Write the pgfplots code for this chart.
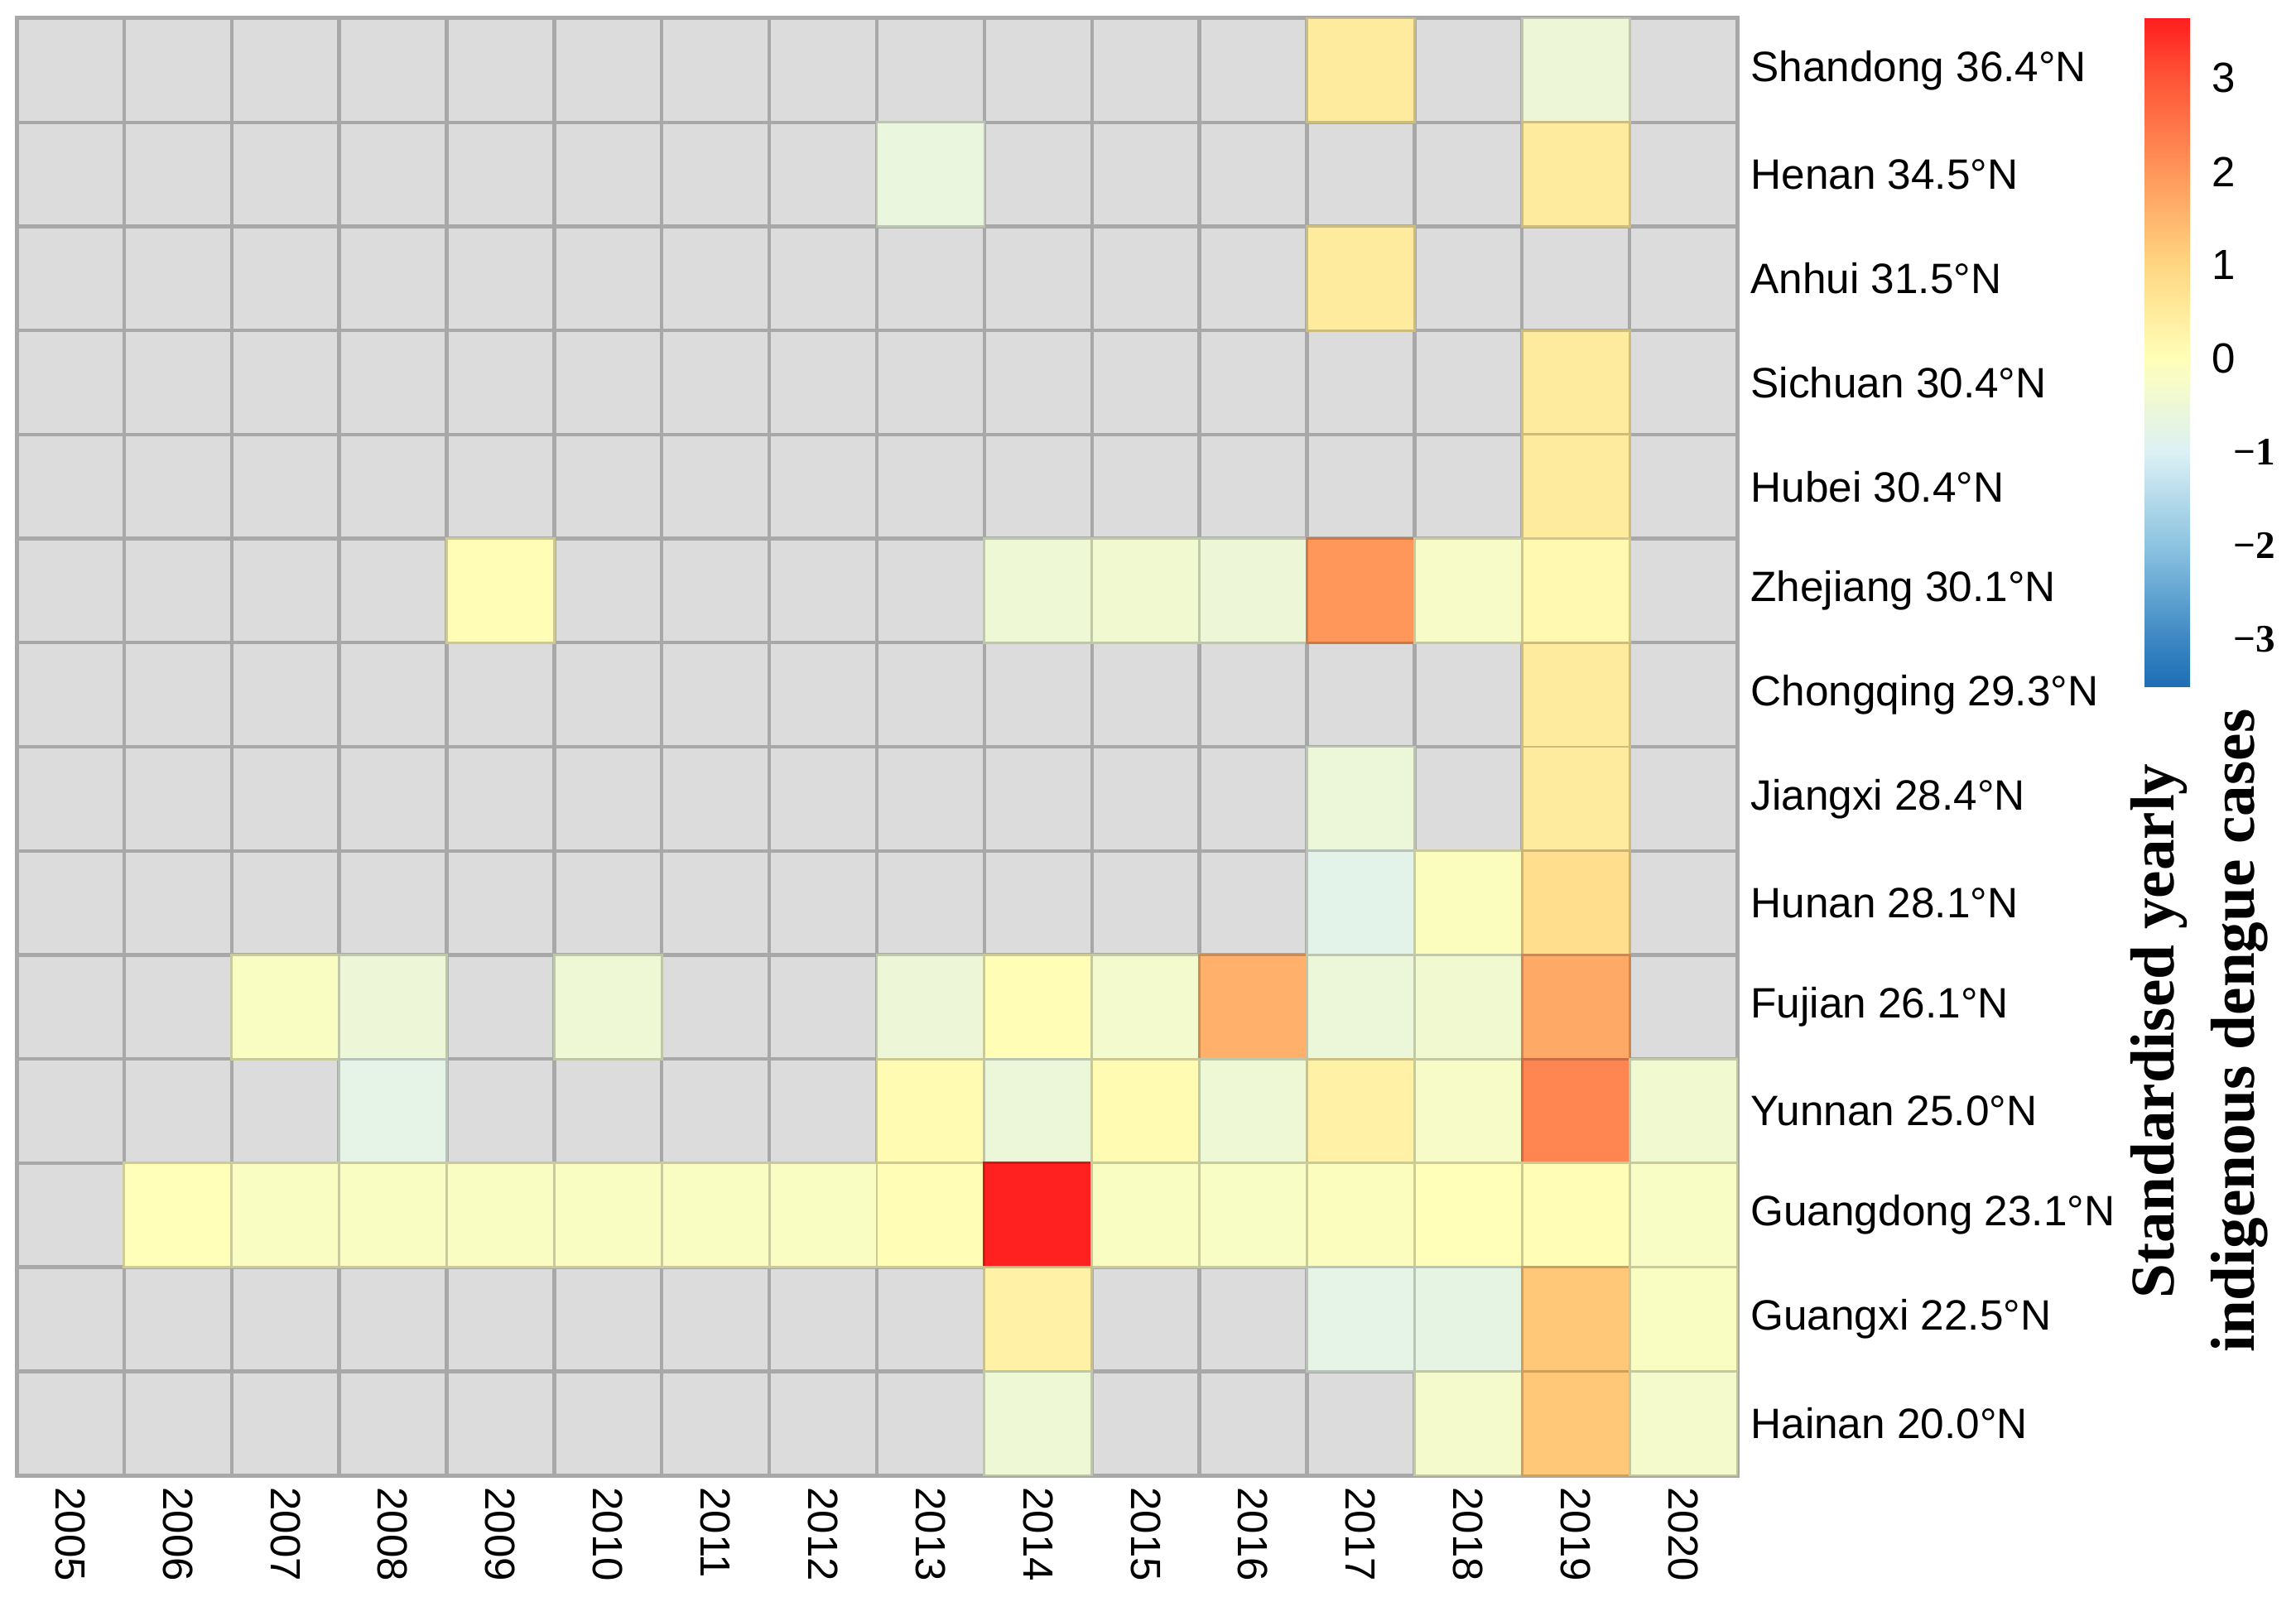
\documentclass[border=0pt]{standalone}
\usepackage{pgfplots}
\pgfplotsset{compat=1.18}
\usepackage{pgfplotstable}
\usepackage{fontspec}
\newfontfamily\arialf{Liberation Sans}
\newfontfamily\timesf{Liberation Serif}
\definecolor{cellgray}{RGB}{220,220,220}
\definecolor{gridgray}{RGB}{168,168,168}

\pgfplotsset{
  colormap={dengue}{rgb255(0cm)=(30,110,180) rgb255(0.51cm)=(60,135,195)
    rgb255(1.51cm)=(140,195,225) rgb255(2.51cm)=(220,240,245)
    rgb255(3.51cm)=(255,255,185) rgb255(4.51cm)=(255,215,130)
    rgb255(5.51cm)=(255,150,90) rgb255(6.51cm)=(255,85,55)
    rgb255(7.15cm)=(255,30,30)}
}

% row: 13 = Shandong (top) ... 0 = Hainan (bottom); only years with cases
\pgfplotstableread{
year row v
2017 13 0.5
2019 13 -0.5
2013 12 -0.6
2019 12 0.5
2017 11 0.5
2019 10 0.5
2019 9 0.5
2009 8 0.05
2014 8 -0.45
2015 8 -0.4
2016 8 -0.5
2017 8 2.0
2018 8 -0.25
2019 8 0.15
2019 7 0.5
2017 6 -0.55
2019 6 0.5
2017 5 -0.8
2018 5 -0.1
2019 5 0.8
2007 4 -0.15
2008 4 -0.5
2010 4 -0.45
2013 4 -0.5
2014 4 0.05
2015 4 -0.35
2016 4 1.6
2017 4 -0.55
2018 4 -0.4
2019 4 1.7
2008 3 -0.75
2013 3 0.1
2014 3 -0.55
2015 3 0.1
2016 3 -0.45
2017 3 0.35
2018 3 -0.25
2019 3 2.25
2020 3 -0.4
2006 2 0.0
2007 2 -0.15
2008 2 -0.15
2009 2 -0.15
2010 2 -0.15
2011 2 -0.15
2012 2 -0.15
2013 2 0.05
2014 2 3.6
2015 2 -0.15
2016 2 -0.2
2017 2 -0.1
2018 2 0.0
2019 2 0.05
2020 2 -0.2
2014 1 0.35
2017 1 -0.75
2018 1 -0.7
2019 1 1.25
2020 1 -0.15
2014 0 -0.45
2018 0 -0.3
2019 0 1.25
2020 0 -0.3
}\cells

\begin{document}
\begin{tikzpicture}
\begin{axis}[
  name=main,
  scale only axis,
  width=103.9mm, height=88.0mm,
  xmin=2004.5, xmax=2020.5, ymin=-0.5, ymax=13.5,
  clip=false,
  axis background/.style={fill=cellgray},
  axis on top,
  axis line style={gridgray, line width=0.25mm},
  scaled x ticks=false,
  xtick={2005,...,2020},
  xticklabels={2005,2006,2007,2008,2009,2010,2011,2012,2013,2014,2015,2016,2017,2018,2019,2020},
  ytick={0,...,13},
  yticklabels={Hainan 20.0°N, Guangxi 22.5°N, Guangdong 23.1°N, Yunnan 25.0°N,
    Fujian 26.1°N, Hunan 28.1°N, Jiangxi 28.4°N, Chongqing 29.3°N, Zhejiang 30.1°N,
    Hubei 30.4°N, Sichuan 30.4°N, Anhui 31.5°N, Henan 34.5°N, Shandong 36.4°N},
  yticklabel pos=right,
  major tick length=0pt, minor tick length=0pt,
  minor xtick={2004.5,2005.5,...,2020.5},
  minor ytick={-0.5,0.5,...,13.5},
  grid=minor,
  minor grid style={gridgray, line width=0.22mm},
  xticklabel style={font=\arialf\fontsize{7.25}{8}\selectfont, rotate=-90, anchor=west,
    inner sep=0pt, inner xsep=0.65mm},
  yticklabel style={font=\arialf\fontsize{7.3}{8}\selectfont, anchor=west,
    inner sep=0pt, xshift=0.75mm},
  colormap name=dengue,
  point meta min=-3.51, point meta max=3.64,
  colorbar,
  colorbar style={
    at={(parent axis.north east)}, anchor=north west, xshift=21.6mm,
    scale only axis, width=2.75mm, height=40.4mm,
    axis line style={draw=none},
    major tick length=0pt,
    ytick={-3,-2,-1,0,1,2,3},
    yticklabels={
      {\hspace*{1.3mm}\timesf\bfseries\fontsize{6.7}{8}\selectfont −3},
      {\hspace*{1.3mm}\timesf\bfseries\fontsize{6.7}{8}\selectfont −2},
      {\hspace*{1.3mm}\timesf\bfseries\fontsize{6.7}{8}\selectfont −1},
      0,1,2,3},
    yticklabel style={font=\arialf\fontsize{7.25}{8}\selectfont, anchor=west,
      inner sep=0pt, xshift=1.25mm},
  },
]
\addplot[scatter, only marks, mark=square*, mark size=3.2475mm,
  mark options={yscale=0.9677}, scatter src=explicit]
  table[x=year, y=row, meta=v] {\cells};

\node[rotate=90, align=center, font=\timesf\bfseries\fontsize{10.7}{13.8}\selectfont]
  at (rel axis cs:1.2685,0.305) {Standardised yearly\\indigenous dengue cases};
\end{axis}
\pgfresetboundingbox
\path[use as bounding box] (main.south west) ++(-1mm,-7.3mm) rectangle ++(138.65mm,96.4mm);
\end{tikzpicture}
\end{document}
